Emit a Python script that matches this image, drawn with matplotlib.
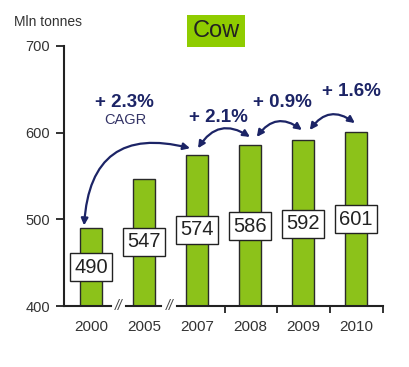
import matplotlib.pyplot as plt
import numpy as np

plt.rcParams["font.family"] = ["Liberation Sans", "DejaVu Sans"]

years = ["2000", "2005", "2007", "2008", "2009", "2010"]
values = [490, 547, 574, 586, 592, 601]
# y position (data units) of the value boxes
label_y = [445, 474, 488, 492, 495, 500]
growth = ["+ 2.3%", "+ 2.1%", "+ 0.9%", "+ 1.6%"]

green = "#8cc21a"
navy = "#1c2466"

fig = plt.figure(figsize=(4.10, 3.67), dpi=100)
ax = fig.add_axes([0.156, 0.166, 0.778, 0.709])

x = np.arange(len(years))
ax.bar(x, values, width=0.42, color=green, edgecolor="#2a2a2a", linewidth=1.0, zorder=2)

for xi, v, ly in zip(x, values, label_y):
    ax.text(xi, ly, str(v), ha="center", va="center", fontsize=14.5, color="#222222",
            bbox=dict(boxstyle="square,pad=0.22", fc="white", ec="#222222", lw=1.0), zorder=4)

ax.set_xlim(-0.51, 5.51)
ax.set_ylim(400, 700)
ax.set_yticks([400, 500, 600, 700])
ax.tick_params(axis="y", direction="out", length=6, width=1.3, labelsize=10.5, colors="#222222",
               labelcolor="#333333", pad=4)
ax.set_xticks(x)
ax.set_xticklabels(years, fontsize=11, color="#333333")
ax.tick_params(axis="x", length=0, pad=10)
ax.set_xticks([2.53, 3.51, 4.51, 5.51], minor=True)
ax.tick_params(axis="x", which="minor", direction="out", length=5, width=1.3, color="#222222")

for s in ["top", "right", "bottom"]:
    ax.spines[s].set_visible(False)
ax.spines["left"].set_linewidth(1.5)
ax.spines["left"].set_color("#222222")

# bottom axis line with breaks
for a, b in [(-0.51, 0.38), (0.66, 1.33), (1.62, 5.51)]:
    ax.plot([a, b], [400, 400], color="#222222", lw=1.5, clip_on=False, zorder=3)
for bx in [0.52, 1.48]:
    ax.text(bx, 400, "//", ha="center", va="center", fontsize=10, style="italic",
            color="#444444", clip_on=False)

# curved growth arrows: (start x, start y, end x, end y, curvature)
arrows = [
    (-0.13, 493, 1.87, 582, -0.6),
    (2.02, 582, 3.0, 595, -0.5),
    (3.13, 595, 3.98, 603, -0.5),
    (4.13, 603, 4.98, 611, -0.5),
]
for x0, y0, x1, y1, r in arrows:
    ax.annotate("", xy=(x1, y1), xytext=(x0, y0),
                arrowprops=dict(arrowstyle="<|-|>", color=navy, lw=1.6, mutation_scale=10,
                                connectionstyle="arc3,rad=%s" % r, shrinkA=0, shrinkB=0),
                zorder=5)

ax.text(0.64, 635, growth[0], ha="center", va="center", fontsize=13.5, fontweight="bold", color=navy)
ax.text(0.64, 615, "CAGR", ha="center", va="center", fontsize=10.5, color="#333366")
ax.text(2.4, 617, growth[1], ha="center", va="center", fontsize=13.5, fontweight="bold", color=navy)
ax.text(3.62, 635, growth[2], ha="center", va="center", fontsize=13.5, fontweight="bold", color=navy)
ax.text(4.92, 647, growth[3], ha="center", va="center", fontsize=13.5, fontweight="bold", color=navy)

fig.text(0.035, 0.94, "Mln tonnes", fontsize=10, color="#333333", va="center")
fig.text(0.527, 0.915, "Cow", fontsize=17, color="#222222", ha="center", va="center",
         bbox=dict(boxstyle="square,pad=0.22", fc="#8fcc00", ec="none"))

fig.savefig("out.png", dpi=100)
